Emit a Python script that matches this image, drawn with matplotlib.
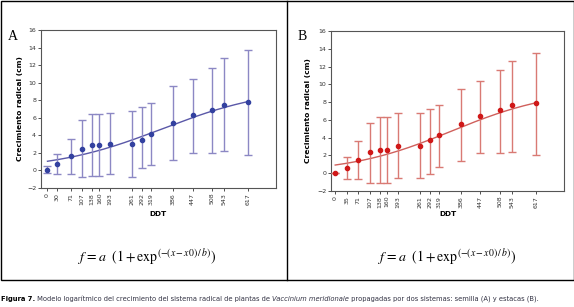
import matplotlib
matplotlib.use("Agg")
import matplotlib.pyplot as plt
from matplotlib import font_manager
import numpy as np

plt.rcParams['mathtext.fontset'] = 'stix'

# ---- data ----
ddt_a = [0, 30, 71, 107, 138, 160, 193, 261, 292, 319, 386, 447, 508, 543, 617]
mean_a = [0.1, 0.78, 1.65, 2.49, 2.87, 2.87, 3.0, 3.0, 3.5, 4.2, 5.4, 6.3, 6.94, 7.5, 7.8]
upper_a = [0.5, 1.85, 3.63, 5.8, 6.4, 6.4, 6.5, 6.75, 7.25, 7.63, 9.57, 10.4, 11.7, 12.77, 13.7]
lower_a = [-0.3, -0.4, -0.36, -0.8, -0.6, -0.6, -0.4, -0.7, 0.3, 0.67, 1.16, 2.0, 2.0, 2.22, 1.8]
fit_a = dict(a=9.5, x0=354.0, b=169.5)

ddt_b = [0, 35, 71, 107, 138, 160, 193, 261, 292, 319, 386, 447, 508, 543, 617]
mean_b = [0.0, 0.62, 1.48, 2.34, 2.6, 2.6, 3.09, 3.09, 3.69, 4.32, 5.56, 6.42, 7.06, 7.69, 7.92]
upper_b = [0.0, 1.78, 3.65, 5.7, 6.34, 6.34, 6.8, 6.8, 7.28, 7.69, 9.53, 10.42, 11.66, 12.67, 13.57]
lower_b = [0.0, -0.65, -0.65, -1.07, -1.14, -1.14, -0.58, -0.58, -0.1, 0.66, 1.33, 2.23, 2.23, 2.41, 2.04]
fit_b = dict(a=9.5, x0=358.5, b=160.7)

ylabel = "Crecimiento radical (cm)"
xlabel = "DDT"

W, H = 574, 307
fig = plt.figure(figsize=(W / 100, H / 100), dpi=100)
fig.patch.set_facecolor('white')


def px(x0, y0, x1, y1):
    return [x0 / W, 1 - y1 / H, (x1 - x0) / W, (y1 - y0) / H]


def panel(rect, ddt, mean, up, lo, fit, line_c, mark_c, curve_c, xlim, letter, letter_xy, ylab_x, ddt_xy, formula_xy):
    ax = fig.add_axes(px(*rect))
    ddt = np.array(ddt); mean = np.array(mean)
    err = [mean - np.array(lo), np.array(up) - mean]
    xs = np.linspace(0, ddt[-1], 200)
    ys = fit['a'] / (1 + np.exp(-(xs - fit['x0']) / fit['b']))
    ax.plot(xs, ys, color=curve_c, lw=1.0, zorder=2)
    ax.errorbar(ddt, mean, yerr=err, fmt='none', ecolor=line_c, elinewidth=1.0, capsize=2.8, capthick=1.0, zorder=3)
    ax.plot(ddt, mean, 'o', color=mark_c, ms=3.0, zorder=4)
    ax.set_xlim(*xlim)
    ax.set_ylim(-2, 16)
    ax.set_yticks(range(-2, 17, 2))
    ax.set_xticks(ddt)
    ax.set_xticklabels([str(v) for v in ddt], rotation=90)
    ax.tick_params(labelsize=4.5, length=2, width=0.6, pad=1.5, colors='#333333')
    for s in ax.spines.values():
        s.set_color('#555555'); s.set_linewidth(0.8)
    fig.text(letter_xy[0] / W, 1 - letter_xy[1] / H, letter, family='Liberation Serif', fontsize=10, ha='left', va='center')
    fig.text(ylab_x / W, 1 - ((rect[1] + rect[3]) / 2) / H, ylabel, rotation=90, fontsize=5.4, fontweight='bold', ha='center', va='center')
    fig.text(ddt_xy[0] / W, 1 - ddt_xy[1] / H, xlabel, fontsize=5.3, fontweight='bold', ha='center', va='center')
    fig.text(formula_xy[0] / W, 1 - formula_xy[1] / H,
             r'$f\,=a\ \ (1+\mathrm{exp}^{(-(x-x0)\,/\,b)})$', fontsize=10, ha='center', va='center')
    return ax


panel((41, 30, 276, 188), ddt_a, mean_a, upper_a, lower_a, fit_a,
      '#8c88c4', '#3341a0', '#5a58a8', (-20, 704), 'A', (8, 36), 20, (158, 214), (147, 258))
panel((331, 31, 564, 191), ddt_b, mean_b, upper_b, lower_b, fit_b,
      '#d97a74', '#d01818', '#d0605c', (-13, 704), 'B', (298, 36), 308, (448, 214), (447, 258))

# borders
from matplotlib.patches import Rectangle
from matplotlib.lines import Line2D
fig.add_artist(Rectangle((0.5 / W, 1 - 280 / H), 573 / W, 279.5 / H, transform=fig.transFigure,
                         fill=False, lw=1.0, ec='black'))
fig.add_artist(Line2D([287 / W, 287 / W], [1 - 280 / H, 1 - 0.5 / H], transform=fig.transFigure, lw=1.0, color='black'))

# caption
names = {f.name for f in font_manager.fontManager.ttflist}
cap_family = ['Liberation Sans Narrow', 'DejaVu Sans'] if 'Liberation Sans Narrow' in names else ['DejaVu Sans']
parts = [("Figura 7.", dict(fontweight='bold', color='black')),
         (" Modelo logarítmico del crecimiento del sistema radical de plantas de ", dict(color='#333344')),
         ("Vaccinium meridionale", dict(style='italic', color='#333344')),
         (" propagadas por dos sistemas: semilla (A) y estacas (B).", dict(color='#333344'))]
fig.canvas.draw()
r = fig.canvas.get_renderer()


def draw_caption(fs):
    x = 1.0
    made = []
    for txt, kw in parts:
        t = fig.text(x / W, 1 - 299 / H, txt, fontsize=fs, family=cap_family, ha='left', va='center', **kw)
        made.append(t)
        x += t.get_window_extent(renderer=r).width
    return made, x - 1.0


made, width = draw_caption(6.5)
for t in made:
    t.remove()
made, width = draw_caption(6.5 * 540.0 / width)

fig.savefig('out.png', dpi=100, facecolor='white')
